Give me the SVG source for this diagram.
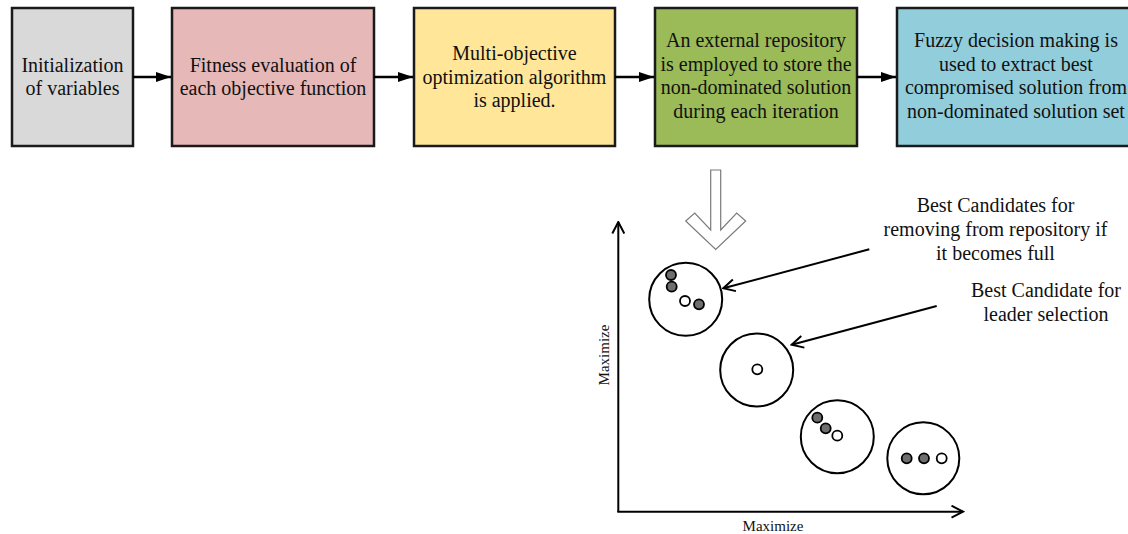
<svg xmlns="http://www.w3.org/2000/svg" width="1128" height="534" viewBox="0 0 1128 534">
<style>
.box{stroke:#1a1a1a;stroke-width:2.5}
.t{font-family:"Liberation Serif","Times New Roman",serif;font-size:20px;fill:#111;text-anchor:middle}
.lbl{font-family:"Liberation Serif","Times New Roman",serif;font-size:15px;fill:#111;text-anchor:middle}
.conn{stroke:#000;stroke-width:2.5;fill:none}
.ax{stroke:#000;stroke-width:2;fill:none}
.ring{fill:#fff;stroke:#000;stroke-width:2}
.g{fill:#6e6e6e;stroke:#000;stroke-width:1.8}
.w{fill:#fff;stroke:#000;stroke-width:1.8}
</style>
<defs>
<marker id="fa" viewBox="0 0 15 10" refX="15" refY="5" markerWidth="15" markerHeight="10" markerUnits="userSpaceOnUse" orient="auto"><path d="M0,0 L15,5 L0,10 z" fill="#000"/></marker>
<marker id="oa" viewBox="0 0 14 14" refX="12.5" refY="7" markerWidth="14" markerHeight="14" markerUnits="userSpaceOnUse" orient="auto"><path d="M1,1 L12.5,7 L1,13" fill="none" stroke="#000" stroke-width="2"/></marker>
</defs>
<rect width="1128" height="534" fill="#fff"/>
<g id="box1"><rect class="box" x="12" y="8" width="121" height="138" fill="#d9d9d9"/><text class="t" x="72.5" y="71.5">Initialization</text><text class="t" x="72.5" y="95">of variables</text></g>
<g id="box2"><rect class="box" x="172" y="8" width="202" height="138" fill="#e6b8b7"/><text class="t" x="273" y="71.5">Fitness evaluation of</text><text class="t" x="273" y="95">each objective function</text></g>
<g id="box3"><rect class="box" x="414" y="8" width="201" height="138" fill="#ffe699"/><text class="t" x="514.5" y="60">Multi-objective</text><text class="t" x="514.5" y="83.5">optimization algorithm</text><text class="t" x="514.5" y="107">is applied.</text></g>
<g id="box4"><rect class="box" x="655" y="8" width="202" height="138" fill="#9bbb59"/><text class="t" x="756" y="47">An external repository</text><text class="t" x="756" y="70.5">is employed to store the</text><text class="t" x="756" y="94">non-dominated solution</text><text class="t" x="756" y="117.5">during each iteration</text></g>
<g id="box5"><rect class="box" x="897" y="8" width="240" height="138" fill="#92cddc"/><text class="t" x="1016" y="47">Fuzzy decision making is</text><text class="t" x="1016" y="70.5">used to extract best</text><text class="t" x="1016" y="94">compromised solution from</text><text class="t" x="1016" y="117.5">non-dominated solution set</text></g>
<g id="connectors">
<line class="conn" x1="133" y1="77" x2="171" y2="77" marker-end="url(#fa)"/>
<line class="conn" x1="374" y1="77" x2="413" y2="77" marker-end="url(#fa)"/>
<line class="conn" x1="615" y1="77" x2="654" y2="77" marker-end="url(#fa)"/>
<line class="conn" x1="857" y1="77" x2="896" y2="77" marker-end="url(#fa)"/>
<polygon points="710.7,170 720.7,170 720.7,230 736.7,213 745.7,221 715.7,249.5 685.7,221 694.7,213 710.7,230" fill="#fff" stroke="#7a7a7a" stroke-width="1.2"/>
<line class="ax" x1="869.3" y1="249.3" x2="723.3" y2="288.3" marker-end="url(#oa)"/>
<line class="ax" x1="936.7" y1="306" x2="791.7" y2="344.8" marker-end="url(#oa)"/>
</g>
<g id="axes">
<line class="ax" x1="618.3" y1="512" x2="618.3" y2="222" marker-end="url(#oa)"/>
<line class="ax" x1="617.3" y1="511.7" x2="963" y2="511.7" marker-end="url(#oa)"/>
<text class="lbl" x="773" y="531">Maximize</text>
<text class="lbl" transform="translate(609,355) rotate(-90)" x="0" y="0">Maximize</text>
</g>
<g id="cluster1"><circle class="ring" cx="685.7" cy="299.3" r="36.5"/><circle class="g" cx="671" cy="275" r="5"/><circle class="g" cx="671.7" cy="286.7" r="5"/><circle class="w" cx="685" cy="301" r="5"/><circle class="g" cx="699" cy="304.3" r="5"/></g>
<g id="cluster2"><circle class="ring" cx="756.7" cy="370" r="36.5"/><circle class="w" cx="757.3" cy="369.3" r="5"/></g>
<g id="cluster3"><circle class="ring" cx="837.3" cy="436.7" r="36.5"/><circle class="g" cx="817.3" cy="417.7" r="5"/><circle class="g" cx="825.7" cy="428.3" r="5"/><circle class="w" cx="837.3" cy="435.7" r="5"/></g>
<g id="cluster4"><circle class="ring" cx="923.3" cy="458.3" r="36"/><circle class="g" cx="906.7" cy="458.3" r="5"/><circle class="g" cx="924" cy="458.3" r="5"/><circle class="w" cx="941.7" cy="458.3" r="5"/></g>
<g id="label1"><text class="t" x="995.5" y="211.5">Best Candidates for</text><text class="t" x="995.5" y="235.5">removing from repository if</text><text class="t" x="995.5" y="259.5">it becomes full</text></g>
<g id="label2"><text class="t" x="1046" y="297">Best Candidate for</text><text class="t" x="1046" y="321">leader selection</text></g>
</svg>
